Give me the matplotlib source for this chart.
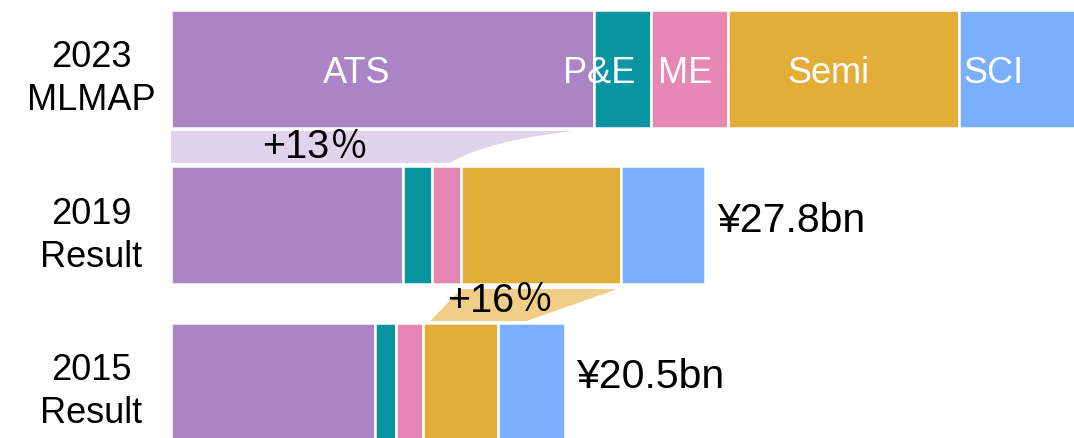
import matplotlib
matplotlib.use("Agg")
import matplotlib.pyplot as plt
from matplotlib.patches import PathPatch, Polygon
from matplotlib.path import Path
import matplotlib.transforms as mtransforms

plt.rcParams['font.family'] = ['Liberation Sans', 'Noto Sans CJK JP', 'DejaVu Sans']

# Revenue by segment (¥bn)
segments = ["ATS", "P&E", "ME", "Semi", "SCI"]
rows = ["2023\nMLMAP", "2019\nResult", "2015\nResult"]
ats = [22.0, 12.1, 10.6]
pe = [3.0, 1.5, 1.1]
me = [4.0, 1.5, 1.4]
semi = [12.0, 8.3, 3.9]
sci = [6.5, 4.4, 3.5]
totals = ["", "¥27.8bn", "¥20.5bn"]
growth_labels = ["+13", "+16"]

colors = ["#AB84C6", "#0A93A0", "#E688B3", "#E3AE38", "#7AAFFC"]
band_colors = ["#E0D3EC", "#F0CE88"]

fig = plt.figure(figsize=(10.74, 4.38), dpi=100)
ax = fig.add_axes([171 / 1074, 0, 1 - 171 / 1074, 1])
ax.set_xlim(0, 47)
ax.set_ylim(2.358, -0.441)
ax.axis("off")

bar_h = 0.754
series = [ats, pe, me, semi, sci]
ypos = list(range(len(rows)))
lefts = [0.0] * len(rows)
for vals, col in zip(series, colors):
    ax.barh(ypos, vals, left=lefts, height=bar_h, color=col,
            edgecolor="white", linewidth=1.8)
    lefts = [l + v for l, v in zip(lefts, vals)]

# Segment names inside the top bar
label_shift = [-1.35, -1.2, -0.25, -0.8, -1.45]
start = 0.0
for name, vals, sh in zip(segments, series, label_shift):
    cx = start + vals[0] / 2 + sh
    ax.text(cx, 0.03, name, color="white", fontsize=26,
            ha="center", va="center")
    start += vals[0]

# Row labels on the left
tr = mtransforms.blended_transform_factory(fig.transFigure, ax.transData)
for y, r in zip(ypos, rows):
    ax.text(91 / 1074, y + 0.066, r, transform=tr, fontsize=26,
            ha="center", va="center", linespacing=1.3)

# Totals to the right of the bars
for y, t, tot in zip(ypos, totals, lefts):
    if t:
        ax.text(tot + 0.6, y - 0.03, t, fontsize=29.5, ha="left", va="center")


def growth_text(x, y, num):
    ax.text(x, y, num, fontsize=28.5, ha="right", va="center")
    ax.text(x, y, "％", fontsize=27.5, ha="left", va="center",
            family=["Noto Sans CJK JP"])


# Growth band: 2019 ATS -> 2023 ATS
y_top, y_bot = 0.396, 0.600
xt = ats[0] - 1.0
xb = ats[1] + 2.4
verts = [(0, y_top), (xt, y_top), (xt - 4.5, y_top + 0.06), (xb, y_bot),
         (0, y_bot), (0, y_top)]
codes = [Path.MOVETO, Path.LINETO, Path.CURVE3, Path.CURVE3,
         Path.LINETO, Path.CLOSEPOLY]
ax.add_patch(PathPatch(Path(verts, codes), facecolor=band_colors[0],
                       edgecolor="none"))
growth_text(8.25, 0.50, growth_labels[0])

# Growth band: 2015 Semi -> 2019 Semi
s19 = ats[1] + pe[1] + me[1]
s15 = ats[2] + pe[2] + me[2]
y_top2, y_bot2 = 1.406, 1.610
poly = [(s19, y_top2), (s19 + semi[1] - 0.15, y_top2),
        (s15 + semi[2] + 1.5, y_bot2), (s15 + 0.4, y_bot2)]
ax.add_patch(Polygon(poly, closed=True, facecolor=band_colors[1],
                     edgecolor="none"))
growth_text(17.85, 1.48, growth_labels[1])

fig.savefig("out.png", dpi=100)
